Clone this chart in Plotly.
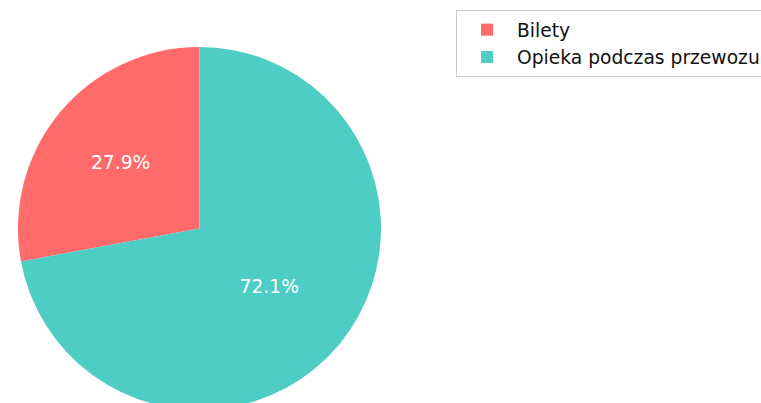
import plotly.graph_objects as go

labels = ["Bilety", "Opieka podczas przewozu"]
values = [27.9, 72.1]
colors = ["#FF6B6B", "#4ECDC4"]

W, H = 800, 410
cx, top, r = 199.5, 47, 181.5

first_angle = -360 * values[0] / sum(values)

fig = go.Figure(go.Pie(
    labels=labels,
    values=values,
    sort=False,
    direction="clockwise",
    rotation=first_angle,
    marker=dict(colors=colors, line=dict(width=0)),
    textinfo="percent",
    texttemplate="%{percent:.1%}",
    textposition="inside",
    insidetextorientation="horizontal",
    textfont=dict(color="white", size=18.7, family="DejaVu Sans"),
    hoverinfo="skip",
    domain=dict(x=[(cx - r) / W, (cx + r) / W], y=[0, 1 - top / H]),
))

fig.update_layout(
    width=W, height=H,
    margin=dict(l=0, r=0, t=0, b=0),
    paper_bgcolor="white",
    plot_bgcolor="white",
    font=dict(family="DejaVu Sans", size=18.7, color="#222222"),
    legend=dict(
        x=456 / W, y=1 - 10 / H, xanchor="left", yanchor="top",
        bordercolor="#cccccc", borderwidth=1, bgcolor="white",
        font=dict(size=18.7, family="DejaVu Sans", color="#111111"),
        itemwidth=50,
    ),
)

fig.write_html(
    "out.html",
    config={"displayModeBar": False},
    post_script="document.body.style.margin='0';document.body.style.overflow='hidden';",
)
